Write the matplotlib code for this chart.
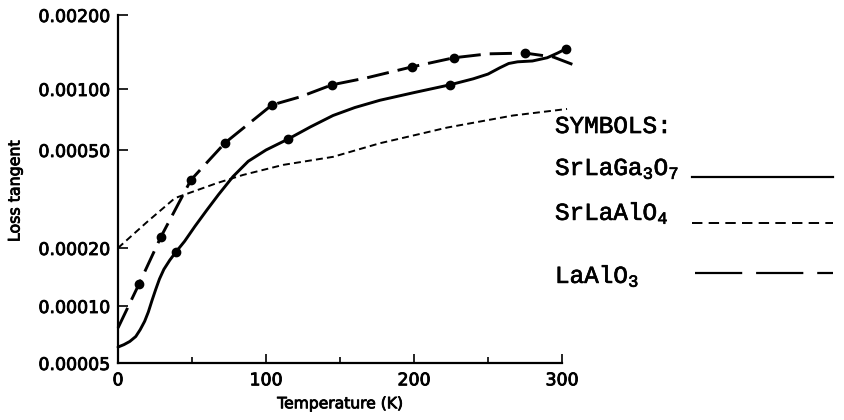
import numpy as np
import matplotlib
matplotlib.use("Agg")
import matplotlib.pyplot as plt
from matplotlib.lines import Line2D
from matplotlib import ticker, patheffects

# ---- data -------------------------------------------------------------
# SrLaGa3O7 (solid curve)
temp_srlaga = [0, 4, 8, 12, 15, 18, 20.5, 23, 25.5, 28, 31, 35, 39.2, 45, 52,
               60, 68, 77.7, 88, 100, 114.9, 130, 145.3, 160, 177, 200, 224.3,
               240, 250, 258, 264, 270, 280, 290, 297, 303]
tan_srlaga = [6.07e-5, 6.25e-5, 6.5e-5, 6.9e-5, 7.5e-5, 8.3e-5, 9.3e-5,
              1.07e-4, 1.22e-4, 1.38e-4, 1.55e-4, 1.73e-4, 1.91e-4, 2.13e-4,
              2.45e-4, 2.85e-4, 3.3e-4, 3.9e-4, 4.5e-4, 5.0e-4, 5.66e-4,
              6.5e-4, 7.4e-4, 8.1e-4, 8.8e-4, 9.6e-4, 1.04e-3, 1.1e-3,
              1.15e-3, 1.22e-3, 1.27e-3, 1.29e-3, 1.30e-3, 1.34e-3, 1.40e-3,
              1.46e-3]
pts_temp_srlaga = [39.2, 114.9, 224.3, 303]
pts_tan_srlaga = [1.91e-4, 5.66e-4, 1.04e-3, 1.46e-3]

# SrLaAlO4 (short dashes)
temp_srlaal = [0, 19.6, 38.5, 66.9, 84.5, 111.6, 145.3, 177, 204, 222.3,
               266.9, 303.4]
tan_srlaal = [2.0e-4, 2.55e-4, 3.19e-4, 3.67e-4, 3.96e-4, 4.35e-4, 4.69e-4,
              5.4e-4, 6.0e-4, 6.45e-4, 7.4e-4, 7.97e-4]

# LaAlO3 (long dashes)
temp_laal = [0, 14.2, 29, 49.3, 72.3, 104, 123, 144.6, 168, 198.6, 227, 250,
             275, 294, 307]
tan_laal = [7.66e-5, 1.3e-4, 2.22e-4, 3.78e-4, 5.42e-4, 8.34e-4, 9.14e-4,
            1.04e-3, 1.11e-3, 1.23e-3, 1.34e-3, 1.39e-3, 1.40e-3, 1.35e-3,
            1.26e-3]
pts_temp_laal = [14.2, 29, 49.3, 72.3, 104, 144.6, 198.6, 227, 275]
pts_tan_laal = [1.3e-4, 2.22e-4, 3.78e-4, 5.42e-4, 8.34e-4, 1.04e-3, 1.23e-3,
                1.34e-3, 1.40e-3]

y_ticks = [5e-5, 1e-4, 2e-4, 5e-4, 1e-3, 2e-3]
x_major = [0, 100, 200, 300]
x_minor = [50, 150, 250]

legend_names = ["SrLaGa$_3$O$_7$", "SrLaAlO$_4$", "LaAlO$_3$"]

# ---- the vertical axis: log-like scale with the printed tick spacing ----
_log_ticks = np.log10(y_ticks)
_tick_frac = np.array([0, 57, 115, 213, 274, 348]) / 348.0
_slo = (_tick_frac[1] - _tick_frac[0]) / (_log_ticks[1] - _log_ticks[0])
_shi = (_tick_frac[-1] - _tick_frac[-2]) / (_log_ticks[-1] - _log_ticks[-2])


def _fwd(v):
    l = np.log10(np.clip(np.asarray(v, dtype=float), 1e-12, None))
    out = np.interp(l, _log_ticks, _tick_frac)
    out = np.where(l < _log_ticks[0], _tick_frac[0] + (l - _log_ticks[0]) * _slo, out)
    out = np.where(l > _log_ticks[-1], _tick_frac[-1] + (l - _log_ticks[-1]) * _shi, out)
    return out


def _inv(p):
    p = np.asarray(p, dtype=float)
    l = np.interp(p, _tick_frac, _log_ticks)
    l = np.where(p < _tick_frac[0], _log_ticks[0] + (p - _tick_frac[0]) / _slo, l)
    l = np.where(p > _tick_frac[-1], _log_ticks[-1] + (p - _tick_frac[-1]) / _shi, l)
    return 10.0 ** l


plt.rcParams["lines.scale_dashes"] = False
plt.rcParams["mathtext.default"] = "regular"

W, H = 845, 420
fig = plt.figure(figsize=(W / 100, H / 100), dpi=100)
ax = fig.add_axes([118 / W, 57 / H, 444 / W, 348 / H])
ax.set_yscale("function", functions=(_fwd, _inv))
ax.set_xlim(0, 300)
ax.set_ylim(y_ticks[0], y_ticks[-1])

ink = "black"
ax.plot(temp_srlaga, tan_srlaga, color=ink, lw=2.1, clip_on=False,
        solid_capstyle="round", solid_joinstyle="round")
ax.plot(pts_temp_srlaga, pts_tan_srlaga, "o", color=ink, ms=6, clip_on=False)
ax.plot(temp_srlaal, tan_srlaal, color=ink, lw=1.4, dashes=(5, 3), clip_on=False)
ax.plot(temp_laal, tan_laal, color=ink, lw=2.1, dashes=(16, 6.5), clip_on=False)
ax.plot(pts_temp_laal, pts_tan_laal, "o", color=ink, ms=6, clip_on=False)

for side in ("top", "right"):
    ax.spines[side].set_visible(False)
for side in ("left", "bottom"):
    ax.spines[side].set_linewidth(1.6)

thick = [patheffects.withStroke(linewidth=0.6, foreground=ink)]

ax.yaxis.set_major_locator(ticker.FixedLocator(y_ticks))
ax.yaxis.set_major_formatter(ticker.FuncFormatter(lambda v, _: f"{v:.5f}"))
ax.yaxis.set_minor_locator(ticker.NullLocator())
ax.xaxis.set_major_locator(ticker.FixedLocator(x_major))
ax.xaxis.set_minor_locator(ticker.FixedLocator(x_minor))
ax.tick_params(axis="y", direction="in", length=7.2, width=1.2, pad=5.8,
               labelsize=12.5)
ax.tick_params(axis="x", which="major", direction="in", length=6.5, width=1.2,
               pad=6.0, labelsize=12.5)
ax.tick_params(axis="x", which="minor", direction="in", length=4.3, width=1.2)
for lab in ax.get_xticklabels() + ax.get_yticklabels():
    lab.set_path_effects(thick)

ax.set_xlabel("Temperature (K)", fontsize=11.2, labelpad=5,
              path_effects=thick)
fig.text(15 / W, 1 - 191 / H, "Loss tangent", rotation=90, ha="center",
         va="center", fontsize=11.4, path_effects=thick)

# ---- key on the right ----------------------------------------------------
mono = dict(family="Liberation Mono", fontsize=17.5, color=ink,
            path_effects=[patheffects.withStroke(linewidth=0.5, foreground=ink)])
fig.text(555 / W, 1 - 133 / H, "SYMBOLS:", ha="left", va="baseline", **mono)
name_baselines = [175, 220, 283]
key_y = [177, 223, 273]
key_starts = [692, 692, 695]
key_styles = [dict(lw=1.6), dict(lw=1.4, dashes=(7.5, 4.5)),
              dict(lw=1.6, dashes=(34, 10))]
for name, yb, yk, xs, st in zip(legend_names, name_baselines, key_y,
                                key_starts, key_styles):
    fig.text(555 / W, 1 - yb / H, name, ha="left", va="baseline", **mono)
    fig.add_artist(Line2D([xs / W, 833 / W], [1 - yk / H, 1 - yk / H],
                          color=ink, **st))

fig.savefig("out.png", dpi=100)
